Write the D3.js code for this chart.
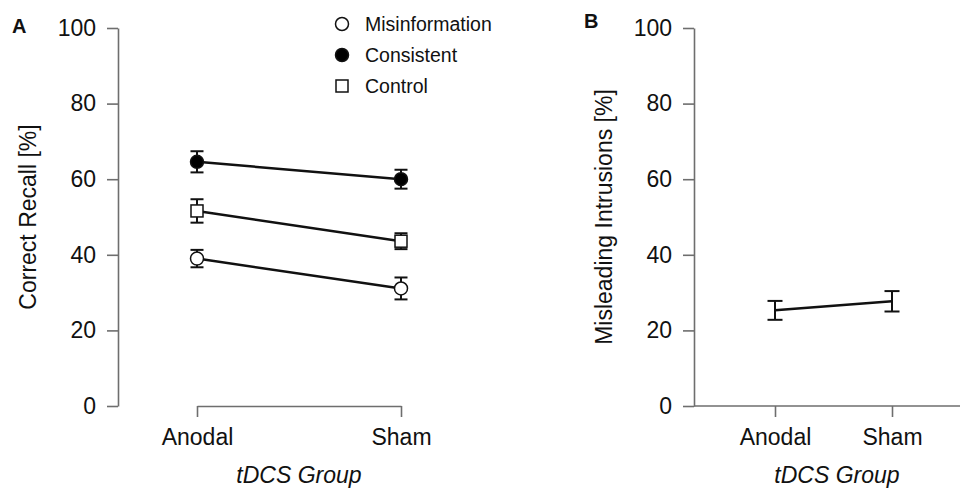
<!DOCTYPE html>
<html lang="en">
<head>
<meta charset="UTF-8" />
<title>tDCS recall</title>
<style>
  body { margin: 0; background: #fff; }
  svg text { font-family: "Liberation Sans", Arial, sans-serif; fill: #111; }
  .axis path, .axis line { stroke: #6e6e6e; stroke-width: 1.6; }
  .axis text { font-size: 23px; }
</style>
</head>
<body>
<div id="chart"></div>
<script src="https://cdn.jsdelivr.net/npm/d3@7/dist/d3.min.js"></script>
<script>
// data (percent, mean and error)
var groups = ["Anodal", "Sham"];
var yTicks = [0, 20, 40, 60, 80, 100];

var misinfoMean = [39.0, 31.1];
var misinfoErr = [2.3, 2.9];
var consistentMean = [64.6, 60.0];
var consistentErr = [2.8, 2.5];
var controlMean = [51.6, 43.6];
var controlErr = [3.1, 2.1];

var intrusionMean = [25.3, 27.7];
var intrusionErr = [2.5, 2.7];

var seriesNames = ["Misinformation", "Consistent", "Control"];

var w = 960, h = 489;

var svg = d3.select("#chart").append("svg")
  .attr("width", w)
  .attr("height", h);

// shared y range (pixels)
var yTop = 28, yBottom = 406;

// ---------- panel A ----------
var xA = d3.scalePoint().domain(groups).range([197, 401]);
var yA = d3.scaleLinear().domain([0, 100]).range([yBottom, yTop]);

svg.append("g")
  .attr("class", "axis")
  .attr("transform", "translate(118,0)")
  .call(d3.axisLeft(yA).tickValues(yTicks).tickSize(11).tickSizeOuter(0).tickPadding(11));

svg.append("g")
  .attr("class", "axis")
  .attr("transform", "translate(0," + yBottom + ")")
  .call(d3.axisBottom(xA).tickSize(11).tickSizeOuter(0).tickPadding(12));

svg.append("text")
  .attr("transform", "translate(36," + ((yTop + yBottom) / 2) + ") rotate(-90)")
  .attr("text-anchor", "middle")
  .style("font-size", "23px")
  .text("Correct Recall [%]");

svg.append("text")
  .attr("x", 299).attr("y", 483)
  .attr("text-anchor", "middle")
  .style("font-size", "23px")
  .style("font-style", "italic")
  .text("tDCS Group");

svg.append("text")
  .attr("x", 12).attr("y", 33)
  .style("font-size", "20px")
  .style("font-weight", "bold")
  .text("A");

var seriesA = [
  { name: "Misinformation", mean: misinfoMean, err: misinfoErr, shape: "circle", fill: "#fff" },
  { name: "Consistent", mean: consistentMean, err: consistentErr, shape: "circle", fill: "#000" },
  { name: "Control", mean: controlMean, err: controlErr, shape: "square", fill: "#fff" }
];

var line = d3.line()
  .x(function(d) { return xA(d.g); })
  .y(function(d) { return yA(d.v); });

function drawErrorBars(g, pts, xs, ys, cap) {
  pts.forEach(function(p) {
    var x = xs(p.g);
    var y1 = ys(p.v + p.e), y2 = ys(p.v - p.e);
    g.append("line").attr("x1", x).attr("x2", x).attr("y1", y1).attr("y2", y2)
      .attr("stroke", "#111").attr("stroke-width", 2);
    g.append("line").attr("x1", x - cap / 2).attr("x2", x + cap / 2).attr("y1", y1).attr("y2", y1)
      .attr("stroke", "#111").attr("stroke-width", 2);
    g.append("line").attr("x1", x - cap / 2).attr("x2", x + cap / 2).attr("y1", y2).attr("y2", y2)
      .attr("stroke", "#111").attr("stroke-width", 2);
  });
}

function drawMarker(g, shape, fill, x, y) {
  if (shape === "circle") {
    g.append("circle").attr("cx", x).attr("cy", y).attr("r", 6.5)
      .attr("fill", fill).attr("stroke", "#111").attr("stroke-width", 1.5);
  } else {
    g.append("rect").attr("x", x - 6).attr("y", y - 6).attr("width", 12).attr("height", 12)
      .attr("fill", fill).attr("stroke", "#111").attr("stroke-width", 1.5);
  }
}

var plotA = svg.append("g");
seriesA.forEach(function(s) {
  var pts = groups.map(function(g, i) { return { g: g, v: s.mean[i], e: s.err[i] }; });
  plotA.append("path").datum(pts)
    .attr("d", line)
    .attr("fill", "none")
    .attr("stroke", "#111")
    .attr("stroke-width", 2.5);
  drawErrorBars(plotA, pts, xA, yA, 13);
  pts.forEach(function(p) { drawMarker(plotA, s.shape, s.fill, xA(p.g), yA(p.v)); });
});

// legend
var legend = svg.append("g").attr("transform", "translate(342,24)");
seriesA.forEach(function(s, i) {
  var row = legend.append("g").attr("transform", "translate(0," + (i * 31) + ")");
  drawMarker(row, s.shape, s.fill, 0, 0);
  row.append("text")
    .attr("x", 23).attr("y", 7)
    .style("font-size", "19.5px")
    .text(seriesNames[i]);
});

// ---------- panel B ----------
var xB = d3.scalePoint().domain(groups).range([775, 892]);
var yB = d3.scaleLinear().domain([0, 100]).range([yBottom, yTop]);

svg.append("g")
  .attr("class", "axis")
  .attr("transform", "translate(694,0)")
  .call(d3.axisLeft(yB).tickValues(yTicks).tickSize(11).tickSizeOuter(0).tickPadding(11));

var xAxisB = svg.append("g")
  .attr("class", "axis")
  .attr("transform", "translate(0," + yBottom + ")")
  .call(d3.axisBottom(xB).tickSize(11).tickSizeOuter(0).tickPadding(12));
// baseline runs from the y axis to the edge
xAxisB.select(".domain").attr("d", "M694,0H960");

svg.append("text")
  .attr("transform", "translate(612," + ((yTop + yBottom) / 2) + ") rotate(-90)")
  .attr("text-anchor", "middle")
  .style("font-size", "23px")
  .text("Misleading Intrusions [%]");

svg.append("text")
  .attr("x", 837).attr("y", 483)
  .attr("text-anchor", "middle")
  .style("font-size", "23px")
  .style("font-style", "italic")
  .text("tDCS Group");

svg.append("text")
  .attr("x", 584).attr("y", 28)
  .style("font-size", "20px")
  .style("font-weight", "bold")
  .text("B");

var lineB = d3.line()
  .x(function(d) { return xB(d.g); })
  .y(function(d) { return yB(d.v); });

var plotB = svg.append("g");
var ptsB = groups.map(function(g, i) { return { g: g, v: intrusionMean[i], e: intrusionErr[i] }; });
plotB.append("path").datum(ptsB)
  .attr("d", lineB)
  .attr("fill", "none")
  .attr("stroke", "#111")
  .attr("stroke-width", 2.5);
drawErrorBars(plotB, ptsB, xB, yB, 15);
</script>
</body>
</html>
